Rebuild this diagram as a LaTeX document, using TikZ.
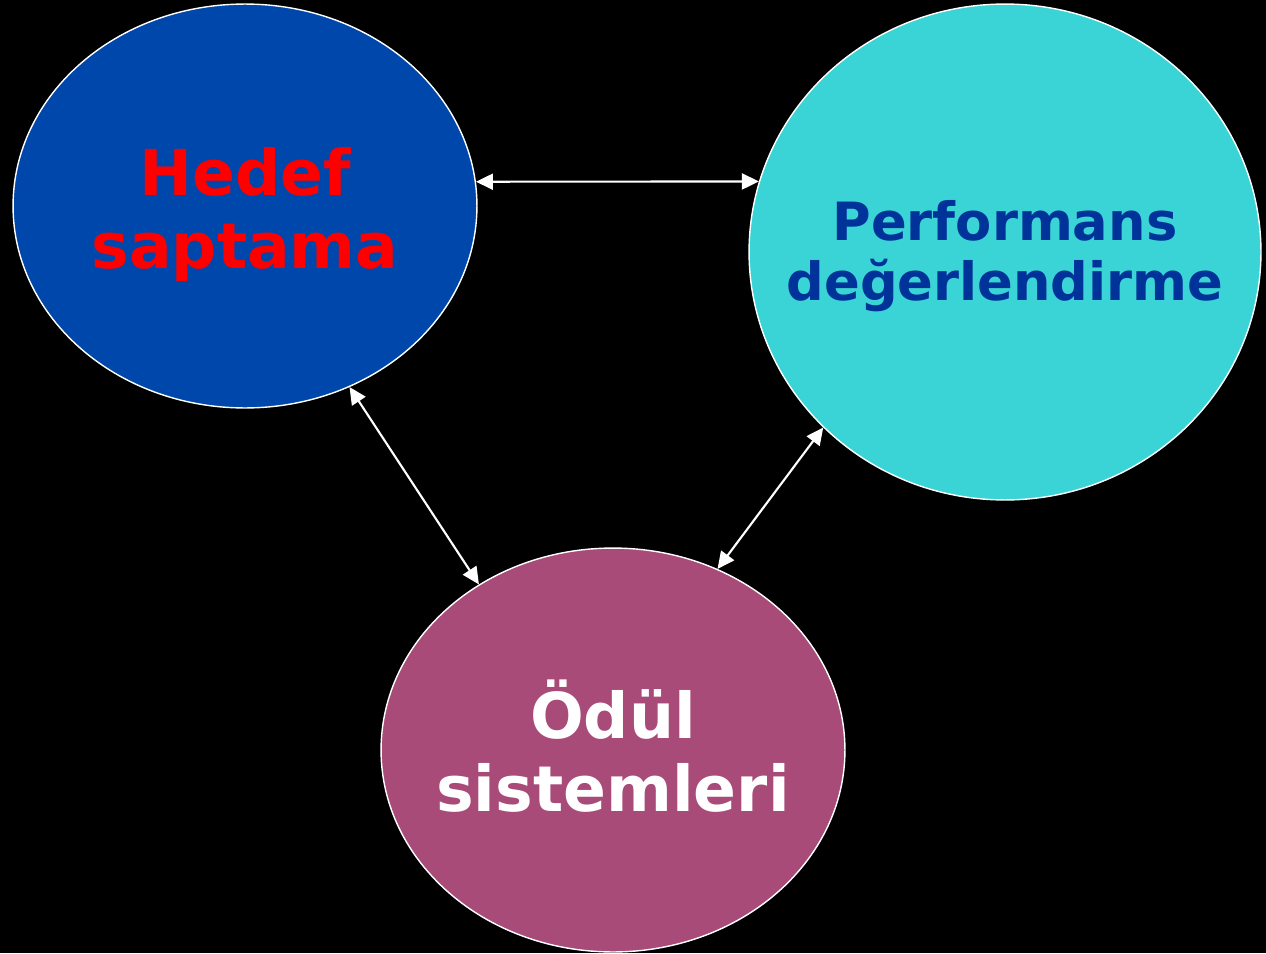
\documentclass[tikz,border=0pt]{standalone}
\usepackage{fontspec}
\setmainfont{DejaVu Sans}
\usepackage{xcolor}
\usetikzlibrary{shapes.geometric, arrows.meta, positioning}

\definecolor{goalblue}{RGB}{0,71,171}
\definecolor{perfcyan}{RGB}{58,212,214}
\definecolor{perftext}{RGB}{0,51,153}
\definecolor{rewardpink}{RGB}{169,75,120}

\begin{document}
\begin{tikzpicture}[
  x=0.02cm, y=-0.02cm,
  blob/.style={ellipse, draw=white, line width=0.8pt, inner sep=0pt},
  caption/.style={align=center, inner sep=0pt},
  bigtext/.style={font=\fontsize{36}{41.5}\selectfont\bfseries},
  link/.style={draw=white, line width=1.2pt, {Triangle[length=0.34cm,width=0.32cm]}-{Triangle[length=0.34cm,width=0.32cm]}}
]
  \fill[black] (0,0) rectangle (1266,953);
  % the three ellipses
  \node[blob, fill=goalblue, minimum width=9.28cm, minimum height=8.08cm] (hedef) at (245,206) {};
  \node[blob, fill=perfcyan, minimum width=10.24cm, minimum height=9.92cm] (perf) at (1005,252) {};
  \node[blob, fill=rewardpink, minimum width=9.28cm, minimum height=8.08cm] (odul) at (613,750) {};
  % their texts
  \node[caption, bigtext, text=red] (hedeftext) at (245,215) {Hedef\\saptama};
  \node[caption, text=perftext, font=\fontsize{30}{34}\selectfont\bfseries] (perftext) at (1005,256) {Performans\\değerlendirme};
  \node[caption, bigtext, text=white] (odultext) at (613,746) {Ödül\\sistemleri};
  % connectors
  \draw[link] (hedef.6) -- (perf.164);
  \draw[link] (hedef.-60) -- (odul.129);
  \draw[link] (perf.-136) -- (odul.60);
\end{tikzpicture}
\end{document}
